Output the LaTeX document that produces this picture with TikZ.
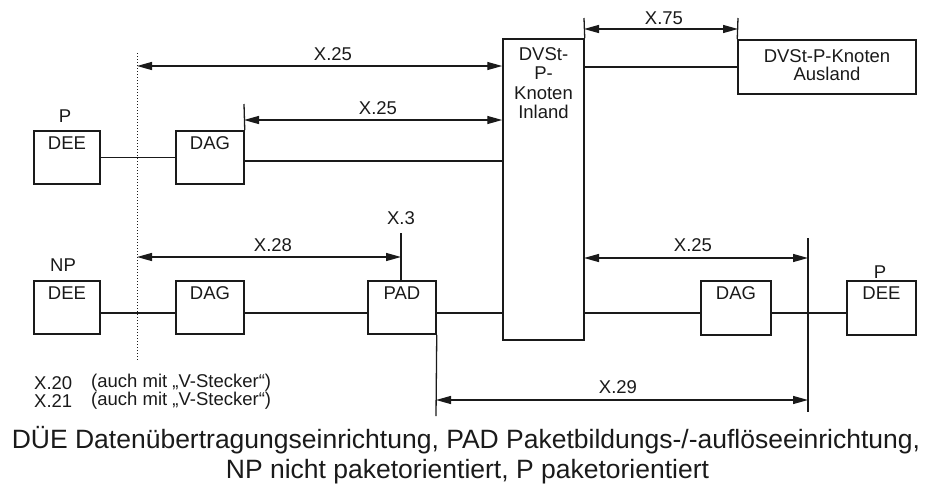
\documentclass[tikz,border=0pt]{standalone}
\usepackage{fontspec}
\setmainfont{Liberation Sans}
\usetikzlibrary{arrows.meta}
\definecolor{ink}{HTML}{1A1A1A}
\begin{document}
\begin{tikzpicture}[x=1pt,y=-1pt,
  box/.style={draw=ink, line width=1.5pt, rectangle, inner sep=0pt},
  txt/.style={font=\fontsize{18.5}{19.5}\selectfont, text=ink, inner sep=0pt, align=center},
  conn/.style={draw=ink, line width=1.3pt},
  dim/.style={conn, {Triangle[length=15pt,width=8pt]}-{Triangle[length=15pt,width=8pt]}},
  dotline/.style={draw=ink, line width=1pt, dotted},
  captxt/.style={font=\fontsize{26.5}{30}\selectfont, text=ink, inner sep=0pt}]
\useasboundingbox (0,0) rectangle (927,485);

% boxes
\node[box, minimum width=66pt, minimum height=53pt] (deeP1) at (67,157.5) {};
\node[box, minimum width=68pt, minimum height=53pt] (dagP1) at (210,157.5) {};
\node[box, minimum width=81pt, minimum height=301pt] (dvst) at (543.5,189.5) {};
\node[box, minimum width=178pt, minimum height=54pt] (ausl) at (827,67) {};
\node[box, minimum width=66pt, minimum height=53pt] (deeNP) at (67,307.5) {};
\node[box, minimum width=68pt, minimum height=53pt] (dagNP) at (210,307.5) {};
\node[box, minimum width=68pt, minimum height=53pt] (pad) at (402,307.5) {};
\node[box, minimum width=70pt, minimum height=54pt] (dagR) at (736,308) {};
\node[box, minimum width=69pt, minimum height=54pt] (deeR) at (881.5,308) {};

% box texts
\node[txt, anchor=north] (deeP1t) at ([yshift=-6pt]deeP1.north) {DEE};
\node[txt, anchor=north] (dagP1t) at ([yshift=-6pt]dagP1.north) {DAG};
\node[txt, anchor=north] (dvstt) at ([yshift=-9pt]dvst.north) {DVSt-\\P-\\Knoten\\Inland};
\node[txt, anchor=north, font=\fontsize{18.5}{18.5}\selectfont] (auslt) at ([yshift=-10pt]ausl.north) {DVSt-P-Knoten\\Ausland};
\node[txt, anchor=north] (deeNPt) at ([yshift=-6pt]deeNP.north) {DEE};
\node[txt, anchor=north] (dagNPt) at ([yshift=-6pt]dagNP.north) {DAG};
\node[txt, anchor=north] (padt) at ([yshift=-6pt]pad.north) {PAD};
\node[txt, anchor=north] (dagRt) at ([yshift=-6pt]dagR.north) {DAG};
\node[txt, anchor=north] (deeRt) at ([yshift=-6pt]deeR.north) {DEE};

% P / NP labels
\node[txt] (lP1) at (65,116) {P};
\node[txt] (lNP) at (63,265) {NP};
\node[txt] (lPR) at (880,272) {P};

% connecting lines
\draw[conn] (deeP1.east) -- (dagP1.west);
\draw[conn] ([yshift=-3.5pt]dagP1.east) -- ([yshift=-3.5pt]dagP1.east -| dvst.west);
\draw[conn] (ausl.west) -- (ausl.west -| dvst.east);
\draw[conn] ([yshift=-5.5pt]deeNP.east) -- ([yshift=-5.5pt]dagNP.west);
\draw[conn] ([yshift=-5.5pt]dagNP.east) -- ([yshift=-5.5pt]pad.west);
\draw[conn] ([yshift=-5.5pt]pad.east) -- ([yshift=-5.5pt]pad.east -| dvst.west);
\draw[conn] ([yshift=-5pt]dagR.west -| dvst.east) -- ([yshift=-5pt]dagR.west);
\draw[conn] ([yshift=-5pt]dagR.east) -- ([yshift=-5pt]deeR.west);

% dotted interface line
\coordinate (dotT) at (137,53);
\coordinate (dotB) at (137,360);
\draw[dotline] (dotT) -- (dotB);

% X.25 top
\coordinate (a1) at (137,66);
\draw[dim] (a1) -- (a1 -| dvst.west);
\node[txt] (l1) at (333,54) {X.25};

% X.25 second
\coordinate (t1) at (244,104);
\draw[conn] (t1) -- (dagP1.north east);
\coordinate (a2) at (244,120);
\draw[dim] (a2) -- (a2 -| dvst.west);
\node[txt] (l2) at (378,108) {X.25};

% X.75
\coordinate (t75a) at (584,18);
\coordinate (t75b) at (738,18);
\draw[conn] (t75a) -- (dvst.north east);
\draw[conn] (t75b) -- (ausl.north west);
\coordinate (a75) at (584,29);
\draw[dim] (a75) -- (a75 -| t75b);
\node[txt] (l75) at (664,18) {X.75};

% X.3 and X.28
\coordinate (t3) at (401,233);
\draw[conn] (t3) -- (t3 |- pad.north);
\node[txt] (l3) at (401,218) {X.3};
\coordinate (a28) at (137,257);
\draw[dim] (a28) -- (a28 -| t3);
\node[txt] (l28) at (273,245) {X.28};

% right X.25
\coordinate (rT) at (808,238);
\coordinate (rB) at (808,412);
\draw[conn] (rT) -- (rB);
\coordinate (a25r) at (584,258);
\draw[dim] (a25r) -- (a25r -| rT);
\node[txt] (l25r) at (693,245) {X.25};

% X.29
\coordinate (padB) at (436,416);
\draw[conn] (pad.south east) -- (padB);
\coordinate (a29) at (436,400);
\draw[dim] (a29) -- (a29 -| rT);
\node[txt] (l29) at (618,387) {X.29};

% X.20 / X.21 notes
\node[txt, anchor=west] (x20) at (34,383) {X.20};
\node[txt, anchor=west] (x20b) at (91,383) {(auch mit „V-Stecker“)};
\node[txt, anchor=west] (x21) at (34,401) {X.21};
\node[txt, anchor=west] (x21b) at (91,401) {(auch mit „V-Stecker“)};

% caption
\node[captxt, anchor=base] (cap1) at (466,448) {DÜE Datenübertragungseinrichtung, PAD Paketbildungs-/-auflöseeinrichtung,};
\node[captxt, anchor=base] (cap2) at (467.5,478) {NP nicht paketorientiert, P paketorientiert};
\end{tikzpicture}
\end{document}
